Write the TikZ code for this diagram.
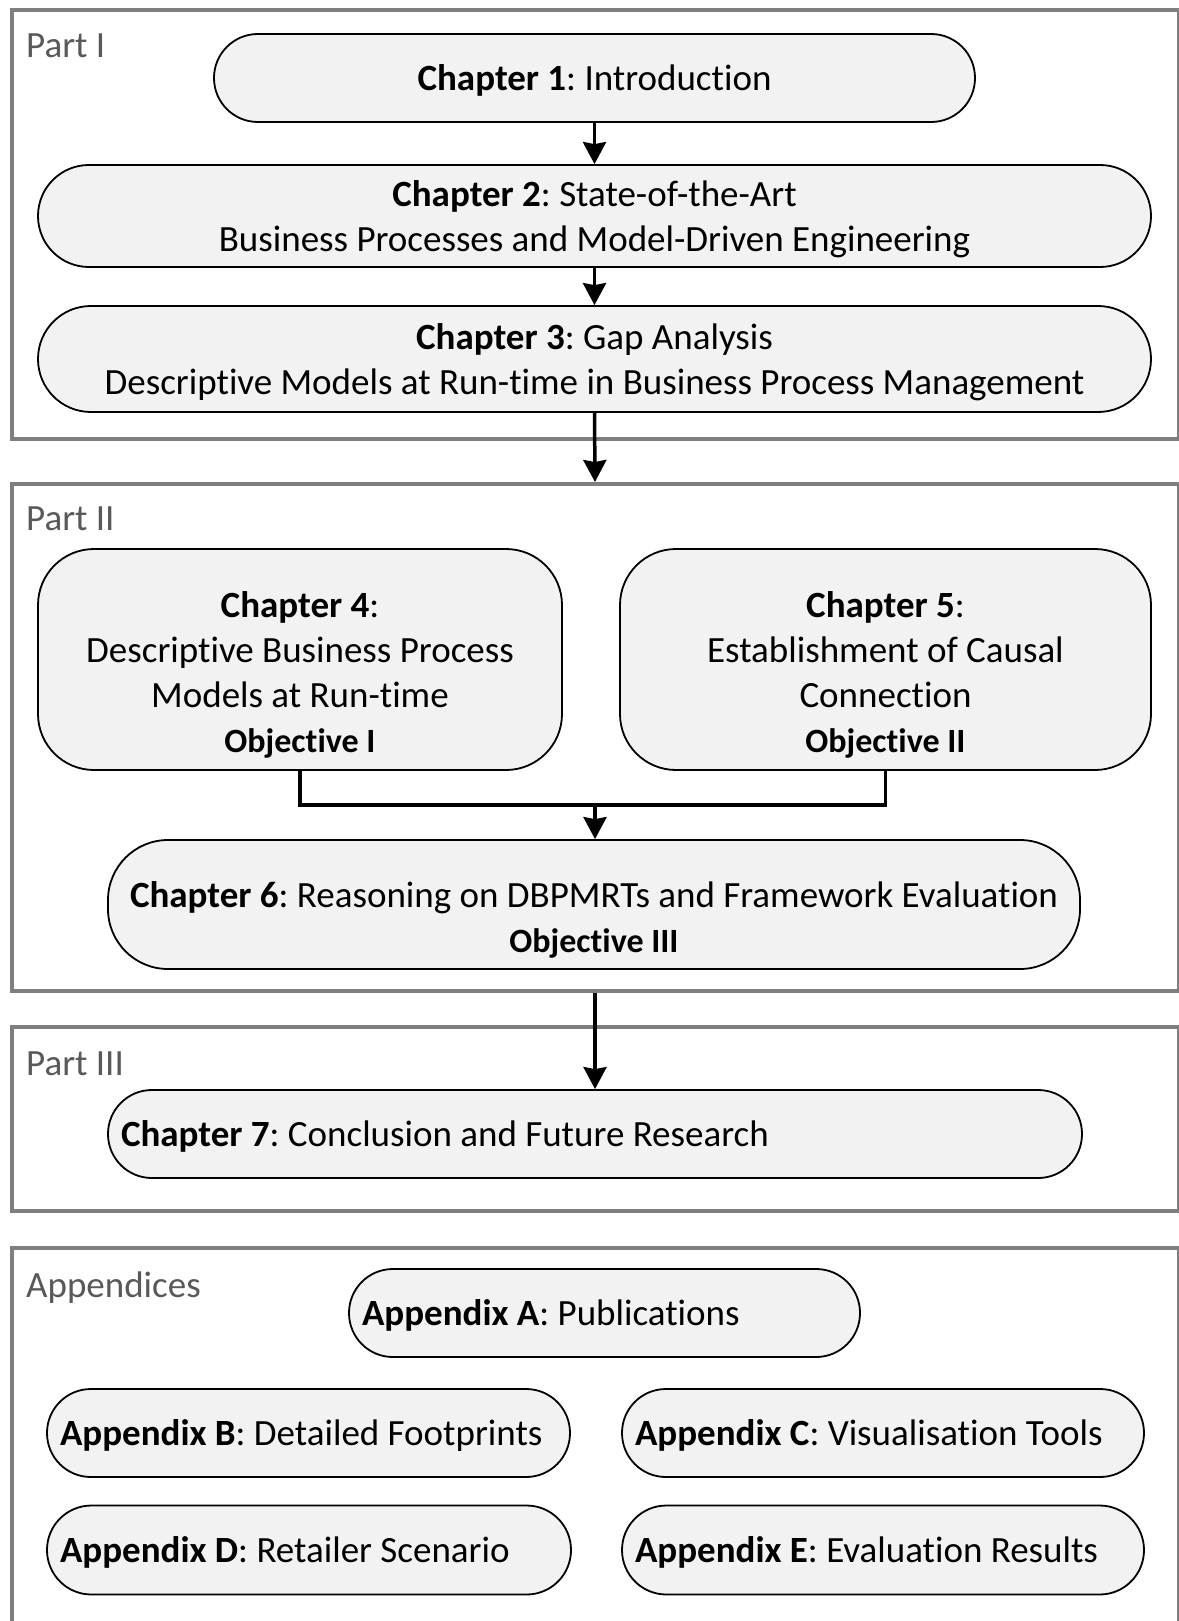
\documentclass[tikz,border=0pt]{standalone}
\usepackage{fontspec}
\setmainfont{Carlito}[Ligatures={TeX,NoCommon}]
\usetikzlibrary{arrows.meta}
\definecolor{boxfill}{HTML}{F2F2F2}
\definecolor{framegray}{HTML}{7F7F7F}
\definecolor{labelgray}{HTML}{595959}
\frenchspacing
% smaller bold line used for the objectives
\newcommand\objline[1]{{\fontsize{34}{45}\selectfont\bfseries #1}}
% extra head room that lowers a multi-line text block inside its box
\newcommand\toproom{\rule{0pt}{57pt}}
\newcommand\lineroom{\rule{0pt}{32pt}}

\begin{document}
\begin{tikzpicture}[x=1pt, y=-1pt,
  font=\fontsize{37}{45}\selectfont,
  partbox/.style={draw=framegray, line width=4pt, minimum width=1167pt, inner sep=0pt},
  partname/.style={text=labelgray, anchor=base west, inner sep=0pt},
  chap/.style={draw=black, fill=boxfill, line width=1.8pt, inner xsep=2pt, inner ysep=0pt, align=center,
    execute at begin node={\rule{0pt}{31pt}}},
  leftchap/.style={draw=black, fill=boxfill, line width=1.8pt, inner xsep=13pt, inner ysep=0pt,
    align=flush left, text width=#1, execute at begin node={\rule{0pt}{31pt}}},
  size/.style n args={3}{minimum width=#1pt, minimum height=#2pt, rounded corners=#3pt},
  flow/.style={line width=3.5pt, -{Stealth[length=22pt, width=23pt, inset=2pt]}},
  link/.style={line width=3.5pt}
]
\useasboundingbox (0,0) rectangle (1178,1621);

% ---- part frames ----
\node[partbox, minimum height=429pt] (p1) at (595,224.5) {};
\node[partbox, minimum height=507pt] (p2) at (595,737.5) {};
\node[partbox, minimum height=184pt] (p3) at (595,1119) {};
\node[partbox, minimum height=392pt] (p4) at (595,1444) {};

\node[partname] (l1) at (26,58) {Part I};
\node[partname] (l2) at (26,530) {Part II};
\node[partname] (l3) at (26,1075) {Part III};
\node[partname] (l4) at (26,1297) {Appendices};

% ---- Part I ----
\node[chap, size={761}{88}{43.9}] (c1) at (594.5,78) {\textbf{Chapter 1}: Introduction};
\node[chap, size={1113}{102}{50.9}] (c2) at (594.5,216)
  {\lineroom\textbf{Chapter 2}: State-of-the-Art\\Business Processes and Model-Driven Engineering};
\node[chap, size={1113}{106}{52.9}] (c3) at (594.5,359)
  {\lineroom\textbf{Chapter 3}: Gap Analysis\\Descriptive Models at Run-time in Business Process Management};

% ---- Part II ----
\node[chap, size={524}{221}{56}] (c4) at (300,659.5)
  {\toproom\textbf{Chapter 4}:\\Descriptive Business Process\\Models at Run-time\\\objline{Objective I}};
\node[chap, size={531}{221}{56}] (c5) at (885.5,659.5)
  {\toproom\textbf{Chapter 5}:\\Establishment of Causal\\Connection\\\objline{Objective II}};
\node[chap, size={972}{129}{60}] (c6) at (594,904.5)
  {\toproom\textbf{Chapter 6}: Reasoning on DBPMRTs and Framework Evaluation\\\objline{Objective III}};

% ---- Part III ----
\node[leftchap=948pt, size={974}{88}{43.9}] (c7) at (595,1134)
  {\textbf{Chapter 7}: Conclusion and Future Research};

% ---- Appendices ----
\node[leftchap=485pt, size={511}{88}{43.9}] (aA) at (604.5,1313) {\textbf{Appendix A}: Publications};
\node[leftchap=497pt, size={523}{88}{43.9}] (aB) at (308.5,1433) {\textbf{Appendix B}: Detailed Footprints};
\node[leftchap=496pt, size={522}{88}{43.9}] (aC) at (883,1433) {\textbf{Appendix C}: Visualisation Tools};
\node[leftchap=498pt, size={524}{89}{44.4}] (aD) at (309,1550) {\textbf{Appendix D}: Retailer Scenario};
\node[leftchap=496pt, size={522}{89}{44.4}] (aE) at (883,1550) {\textbf{Appendix E}: Evaluation Results};

% ---- connectors ----
\draw[flow] (c1.south) -- (c2.north);
\draw[flow] (c2.south) -- (c3.north);
\draw[flow] (c3.south) -- (p2.north);
\coordinate (join) at (595,805);
\draw[link] (c4.south) |- (join) -| (c5.south);
\draw[flow] (join) -- (join |- c6.north);
\draw[flow] (p2.south) -- (c7.north);
\end{tikzpicture}
\end{document}
